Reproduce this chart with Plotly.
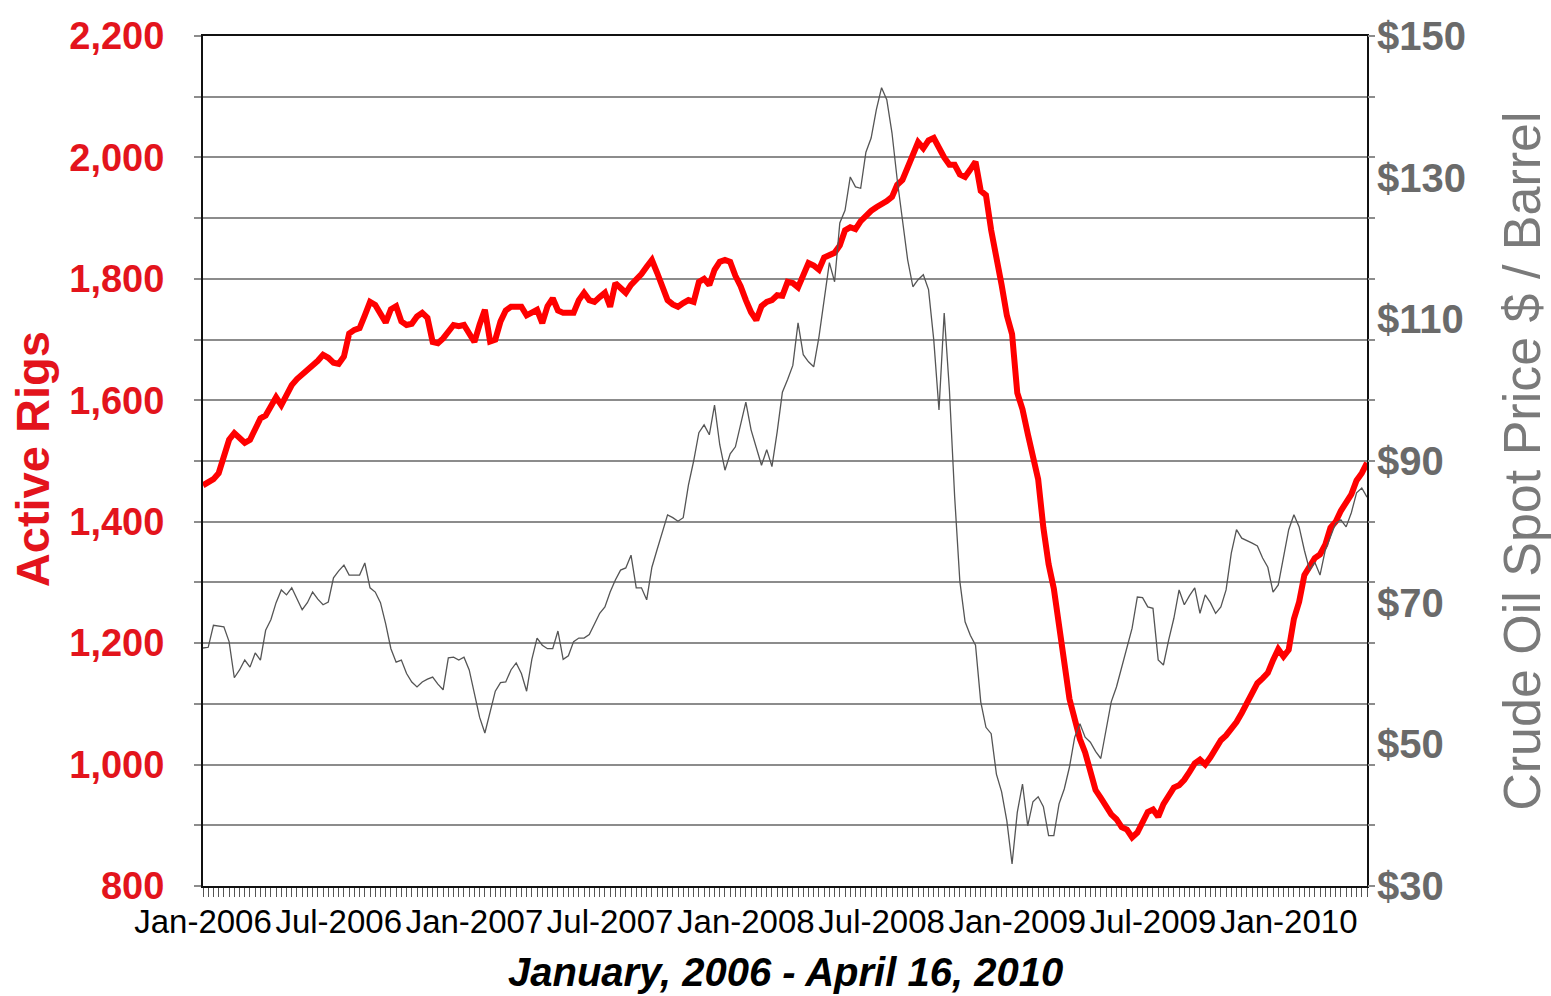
import pandas as pd
import plotly.graph_objects as go

# ---------------- data (weekly) ----------------
start_date = "2006-01-06"

rigs = [
    1460, 1465, 1470, 1480, 1510, 1535, 1546, 1538, 1530, 1535,
    1555, 1570, 1575, 1590, 1605, 1592, 1610, 1625, 1635, 1642,
    1650, 1657, 1665, 1675, 1670, 1662, 1660, 1672, 1710, 1716,
    1719, 1740, 1762, 1757, 1740, 1728, 1750, 1755, 1730, 1724,
    1726, 1738, 1744, 1736, 1696, 1694, 1702, 1715, 1724, 1722,
    1724, 1710, 1696, 1725, 1749, 1697, 1700, 1730, 1748, 1754,
    1755, 1754, 1740, 1745, 1749, 1727, 1755, 1768, 1748, 1744,
    1745, 1744, 1765, 1777, 1765, 1762, 1770, 1777, 1754, 1793,
    1785, 1777, 1790, 1798, 1808, 1820, 1831, 1810, 1785, 1765,
    1758, 1754, 1760, 1765, 1762, 1795, 1800, 1790, 1815, 1828,
    1831, 1828, 1805, 1788, 1765, 1745, 1732, 1755, 1762, 1765,
    1773, 1772, 1795, 1793, 1786, 1805, 1826, 1822, 1815, 1835,
    1840, 1843, 1855, 1880, 1885, 1882, 1895, 1905, 1912, 1918,
    1922, 1928, 1935, 1955, 1963, 1985, 2005, 2025, 2015, 2028,
    2032, 2015, 2000, 1988, 1988, 1972, 1968, 1980, 1993, 1945,
    1938, 1880, 1840, 1790, 1740, 1709, 1612, 1585, 1545, 1505,
    1470, 1390, 1330, 1290, 1225, 1155, 1108, 1075, 1042, 1020,
    990, 958, 945, 932, 918, 910, 897, 893, 880, 888,
    905, 922, 926, 914, 935, 950, 962, 966, 975, 988,
    1002, 1008, 1000, 1012, 1025, 1040, 1048, 1058, 1070, 1085,
    1101, 1118, 1134, 1142, 1151, 1172, 1190, 1178, 1189, 1240,
    1268, 1312, 1328, 1340, 1346, 1362, 1390, 1400, 1418, 1430,
    1445, 1468, 1480, 1497,
]

oil = [
    63.6, 63.7, 66.8, 66.7, 66.6, 64.5, 59.4, 60.5, 61.9, 60.9,
    62.9, 61.9, 66.1, 67.6, 70.0, 71.8, 71.1, 72.1, 70.5, 69.0,
    70.0, 71.5, 70.5, 69.7, 70.1, 73.5, 74.5, 75.3, 73.9, 73.9,
    73.9, 75.6, 72.1, 71.5, 70.0, 67.0, 63.5, 61.6, 61.9, 60.0,
    58.8, 58.1, 58.8, 59.2, 59.5, 58.5, 57.7, 62.2, 62.3, 61.9,
    62.3, 60.5, 57.0, 53.8, 51.6, 54.5, 57.5, 58.7, 58.8, 60.5,
    61.5, 60.0, 57.5, 62.0, 65.0, 64.0, 63.5, 63.5, 66.0, 62.0,
    62.5, 64.5, 65.0, 65.0, 65.5, 67.0, 68.5, 69.4, 71.5, 73.2,
    74.6, 74.9, 76.7, 72.1, 72.1, 70.4, 75.0, 77.5, 80.0, 82.4,
    82.0, 81.5, 82.0, 86.6, 90.0, 94.0, 95.1, 93.7, 97.9, 92.3,
    88.7, 91.0, 92.0, 95.0, 98.3, 94.4, 92.0, 89.4, 91.6, 89.2,
    94.1, 99.7, 101.5, 103.5, 109.5, 105.0, 104.0, 103.3, 107.5, 113.0,
    118.0, 115.3, 123.6, 125.4, 130.1, 128.7, 128.5, 133.6, 135.6, 139.6,
    142.7, 141.0, 136.3, 129.7, 124.4, 118.4, 114.6, 115.6, 116.3, 114.2,
    107.1, 97.2, 110.9, 100.0, 85.0, 73.0, 67.3, 65.4, 64.0, 56.0,
    52.4, 51.5, 45.8, 43.3, 39.2, 33.1, 40.4, 44.4, 38.5, 41.9,
    42.6, 41.2, 37.1, 37.1, 41.6, 43.7, 46.8, 51.0, 52.9, 51.0,
    50.3, 49.0, 48.0, 52.0, 56.0, 58.1, 61.0, 63.7, 66.4, 70.8,
    70.7, 69.4, 69.2, 61.9, 61.2, 64.7, 67.8, 71.8, 69.7, 71.0,
    72.1, 68.5, 71.1, 70.0, 68.5, 69.4, 71.8, 77.0, 80.3, 79.1,
    78.8, 78.4, 78.0, 76.3, 75.0, 71.5, 72.5, 76.3, 80.3, 82.4,
    80.7, 77.4, 74.6, 75.7, 73.9, 77.4, 79.3, 81.2, 81.7, 80.7,
    82.7, 85.5, 86.2, 84.9,
]

tick_dates = ["2006-01-06", "2006-07-07", "2007-01-05", "2007-07-06", "2008-01-04",
              "2008-07-04", "2009-01-02", "2009-07-03", "2010-01-01"]
tick_labels = ["Jan-2006", "Jul-2006", "Jan-2007", "Jul-2007", "Jan-2008",
               "Jul-2008", "Jan-2009", "Jul-2009", "Jan-2010"]

price_ticks = [30, 50, 70, 90, 110, 130, 150]

left_title = "Active Rigs"
right_title = "Crude Oil Spot Price $ / Barrel"
x_title = "January, 2006 - April 16, 2010"

# ---------------- figure ----------------
dates = pd.date_range(start_date, periods=len(rigs), freq="7D")
date_str = [d.strftime("%Y-%m-%d") for d in dates]
label_map = dict(zip(tick_dates, tick_labels))
week_text = [label_map.get(d, "") for d in date_str]

RED = "#ff0000"
LABEL_RED = "#e3141c"
GRAY_TXT = "#6a6a6a"
SANS = "Liberation Sans, Arial, sans-serif"

fig = go.Figure()
fig.add_trace(go.Scatter(x=date_str, y=rigs, mode="lines", name="Active Rigs",
                         line=dict(color=RED, width=6), yaxis="y"))
fig.add_trace(go.Scatter(x=date_str, y=oil, mode="lines", name="Crude Oil",
                         line=dict(color="#555555", width=1.3), yaxis="y2"))
# invisible trace to activate the right-hand tick stubs axis
fig.add_trace(go.Scatter(x=[date_str[0]], y=[800], mode="markers",
                         marker=dict(opacity=0), yaxis="y3", hoverinfo="skip"))

fig.update_layout(
    width=1551, height=996,
    margin=dict(l=203, r=184, t=36, b=110),
    paper_bgcolor="white", plot_bgcolor="white",
    showlegend=False,
    xaxis=dict(
        type="date",
        range=[date_str[0], date_str[-1]],
        tickmode="array", tickvals=date_str, ticktext=week_text,
        tickangle=0,
        ticks="outside", ticklen=9, tickwidth=1, tickcolor="#555555",
        ticklabelstandoff=-4,
        tickfont=dict(family=SANS, size=33, color="black"),
        showgrid=False, zeroline=False,
        showline=True, linecolor="#111111", linewidth=2, mirror=True,
        automargin=False,
    ),
    yaxis=dict(
        range=[800, 2200], tickmode="linear", tick0=800, dtick=100,
        ticklabelstep=2, tickformat=",d",
        ticks="outside", ticklen=7, tickcolor="#8c8c8c", tickwidth=2,
        ticklabelstandoff=22,
        tickfont=dict(family=SANS, size=38, color=LABEL_RED, weight="bold"),
        showgrid=True, gridcolor="#8c8c8c", gridwidth=2,
        zeroline=False,
        showline=True, linecolor="#111111", linewidth=2,
        automargin=False,
    ),
    yaxis2=dict(
        range=[30, 150], overlaying="y", side="right",
        tickmode="array", tickvals=price_ticks,
        ticktext=["$" + str(v) for v in price_ticks],
        ticks="", ticklabelstandoff=0,
        tickfont=dict(family=SANS, size=40, color=GRAY_TXT, weight="bold"),
        showgrid=False, zeroline=False,
        showline=True, linecolor="#111111", linewidth=2,
        automargin=False,
    ),
    yaxis3=dict(
        range=[800, 2200], overlaying="y", side="right",
        tickmode="linear", tick0=800, dtick=100,
        ticks="outside", ticklen=7, tickcolor="#8c8c8c", tickwidth=2,
        showticklabels=False, showgrid=False, zeroline=False, showline=False,
        automargin=False,
    ),
    annotations=[
        dict(text=left_title, xref="paper", yref="paper", x=-0.147, y=0.502,
             textangle=-90, showarrow=False, xanchor="center", yanchor="middle",
             font=dict(family=SANS, size=47, color=LABEL_RED, weight="bold")),
        dict(text=right_title, xref="paper", yref="paper", x=1.133, y=0.5,
             textangle=-90, showarrow=False, xanchor="center", yanchor="middle",
             font=dict(family=SANS, size=52, color="#7a7a7a")),
        dict(text=x_title, xref="paper", yref="paper", x=0.5, y=-0.101,
             showarrow=False, xanchor="center", yanchor="middle",
             font=dict(family=SANS, size=40, color="black", weight="bold", style="italic")),
    ],
)

fig.write_html(
    "out.html",
    config={"displayModeBar": False},
    post_script="document.body.style.margin='0px';document.body.style.overflow='hidden';",
)
